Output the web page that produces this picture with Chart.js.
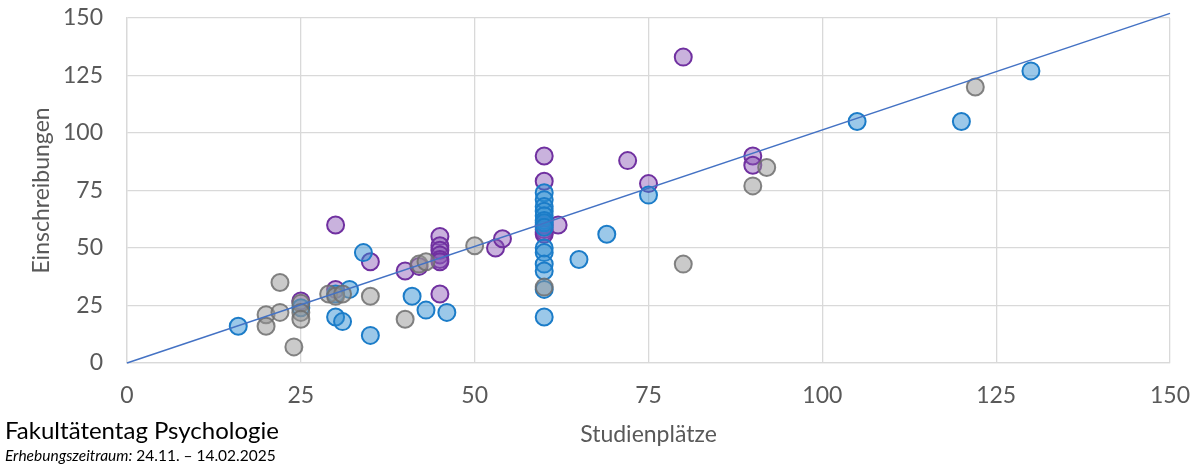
<!DOCTYPE html>
<html>
<head>
<meta charset="utf-8">
<script src="https://cdn.jsdelivr.net/npm/chart.js@4/dist/chart.umd.min.js"></script>
<style>
  html, body { margin: 0; padding: 0; background: #fff; }
  #wrap { position: relative; width: 1199px; height: 468px; }
  #c { position: absolute; left: 0; top: 0; }
  .foot1 { position: absolute; left: 5px; top: 415px; font-family: Lato, "Noto Sans", sans-serif; font-size: 24px; color: #000; white-space: nowrap; }
  .foot2 { position: absolute; left: 5px; top: 446px; font-family: Lato, "Noto Sans", sans-serif; font-size: 15.5px; color: #000; white-space: nowrap; }
</style>
</head>
<body>
<div id="wrap">
  <canvas id="c" width="1199" height="468"></canvas>
  <div class="foot1">Fakultätentag Psychologie</div>
  <div class="foot2"><i>Erhebungszeitraum:</i> 24.11. – 14.02.2025</div>
</div>
<script>
// ---- Data ----
const blueX = [16, 25, 30, 30, 31, 32, 34, 35, 41, 43, 46,
               60, 60, 60, 60, 60, 60, 60, 60, 60, 60, 60, 60, 60, 60,
               65, 69, 75, 105, 120, 130];
const blueY = [16, 24, 30, 20, 18, 32, 48, 12, 29, 23, 22,
               74, 71, 68, 66, 64, 62, 61, 59, 50, 48, 43, 40, 32, 20,
               45, 56, 73, 105, 105, 127];

const purpleX = [25, 30, 30, 35, 40, 42, 45, 45, 45, 45, 45, 45, 45, 53, 54,
                 60, 60, 60, 60, 60, 60, 62, 72, 75, 80, 90, 90];
const purpleY = [27, 60, 32, 44, 40, 42, 55, 51, 49, 47, 45, 44, 30, 50, 54,
                 90, 79, 60, 58, 57, 56, 60, 88, 78, 133, 90, 86];

const greyX = [20, 20, 22, 22, 24, 25, 25, 25, 29, 30, 31, 35, 40, 42, 43, 50, 60, 80, 90, 92, 122];
const greyY = [21, 16, 35, 22, 7, 26, 22, 19, 30, 29, 30, 29, 19, 43, 44, 51, 33, 43, 77, 85, 120];

const trendX = [0, 150];
const trendY = [0, 152];

const xTicks = [0, 25, 50, 75, 100, 125, 150];
const yTicks = [0, 25, 50, 75, 100, 125, 150];

const xTitle = 'Studienplätze';
const yTitle = 'Einschreibungen';

// ---- Build ----
const pts = (xs, ys) => xs.map((x, i) => ({ x: x, y: ys[i] }));

const tickFont = { family: 'Lato, "Noto Sans", sans-serif', size: 23 };
const titleFont = { family: 'Lato, "Noto Sans", sans-serif', size: 23 };
const gridColor = '#d9d9d9';
const textColor = '#595959';

new Chart(document.getElementById('c'), {
  data: {
    datasets: [
      {
        type: 'line', data: pts(trendX, trendY), borderColor: '#4472C4', borderWidth: 1.5,
        pointRadius: 0, fill: false, clip: false, order: 0
      },
      {
        type: 'scatter', data: pts(greyX, greyY), backgroundColor: 'rgba(150,150,150,0.5)',
        borderColor: 'rgba(110,110,110,0.85)', borderWidth: 2, pointRadius: 8.5, order: 1
      },
      {
        type: 'scatter', data: pts(blueX, blueY), backgroundColor: 'rgba(45,140,210,0.48)',
        borderColor: '#1b7cc8', borderWidth: 2, pointRadius: 8.5, order: 2
      },
      {
        type: 'scatter', data: pts(purpleX, purpleY), backgroundColor: 'rgba(135,85,180,0.45)',
        borderColor: '#7030a0', borderWidth: 2, pointRadius: 8.5, order: 3
      }
    ]
  },
  options: {
    responsive: false,
    animation: false,
    layout: { padding: { top: 18, right: 29, left: 0, bottom: 0 } },
    plugins: { legend: { display: false }, tooltip: { enabled: false } },
    scales: {
      x: {
        type: 'linear', min: 0, max: 150,
        afterBuildTicks: s => { s.ticks = xTicks.map(v => ({ value: v })); },
        afterFit: s => { s.height = 105; s.paddingLeft = 0; s.paddingRight = 0; },
        grid: { color: gridColor, lineWidth: 1.3, drawTicks: false },
        border: { color: gridColor, width: 1.3 },
        ticks: { color: textColor, font: tickFont, padding: 19, maxRotation: 0 },
        title: { display: true, text: xTitle, color: textColor, font: titleFont, padding: { top: 0, bottom: 20 } }
      },
      y: {
        type: 'linear', min: 0, max: 150,
        afterBuildTicks: s => { s.ticks = yTicks.map(v => ({ value: v })); },
        afterFit: s => { s.width = 127; s.paddingTop = 0; s.paddingBottom = 0; },
        grid: { color: gridColor, lineWidth: 1.3, drawTicks: false },
        border: { color: gridColor, width: 1.3 },
        ticks: { color: textColor, font: tickFont, padding: 24 },
        title: { display: true, text: yTitle, color: textColor, font: titleFont, padding: { top: 28, bottom: 0 } }
      }
    }
  }
});
</script>
</body>
</html>
